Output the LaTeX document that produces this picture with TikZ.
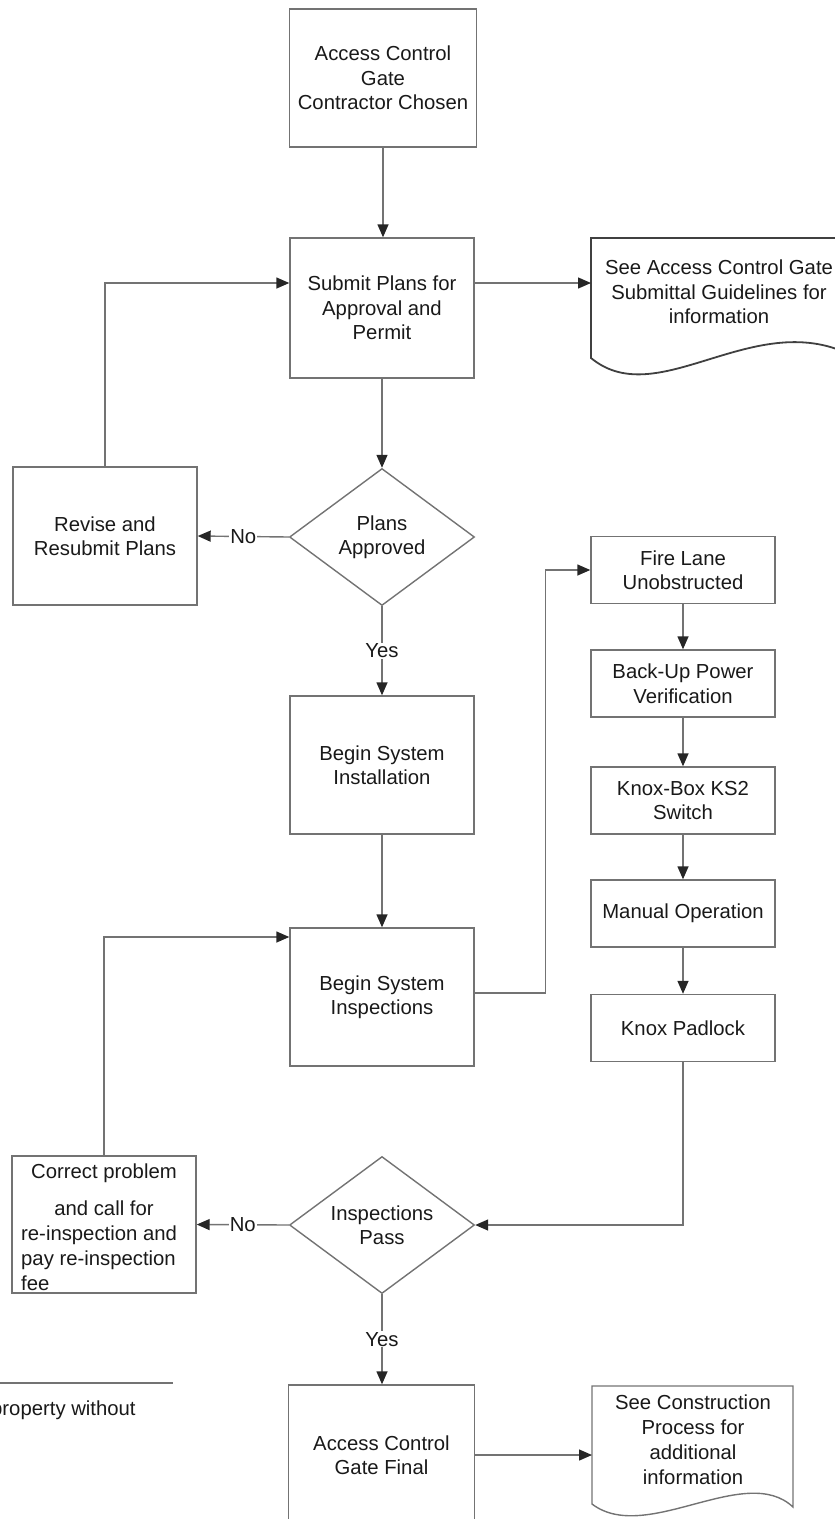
\documentclass[tikz,border=0pt]{standalone}
\usepackage{fontspec}
\setmainfont{Liberation Sans}
\usetikzlibrary{arrows.meta,shapes.geometric}
\begin{document}
\begin{tikzpicture}[x=1pt,y=-1pt,
  every node/.style={font=\fontsize{20.3}{24.5}\selectfont, text=black!90},
  box/.style={draw=black!55, line width=1.4pt, minimum width=184pt, minimum height=138pt, align=center, inner sep=0pt},
  smallbox/.style={box, minimum height=67pt},
  decision/.style={diamond, draw=black!55, line width=1.4pt, minimum width=185pt, minimum height=137pt, aspect=1.35, align=center, inner sep=0pt},
  conn/.style={draw=black!55, line width=1.4pt},
  arr/.style={conn, -{Triangle[length=13pt,width=11pt,color=black!85]}},
  lbl/.style={fill=white, inner sep=1pt},
  plain/.style={inner sep=0pt}
]
\useasboundingbox (0,0) rectangle (835,1519);
\clip (0,0) rectangle (835,1519);

% main column
\node[box, minimum width=187pt] (top) at (383,78) {Access Control\\Gate\\Contractor Chosen};
\node[box, minimum height=140pt] (submit) at (382,308) {Submit Plans for\\Approval and\\Permit};
\node[decision] (d1) at (382,537) {Plans\\Approved};
\node[box] (revise) at (105,536) {Revise and\\Resubmit Plans};
\node[box] (install) at (382,765) {Begin System\\Installation};
\node[box] (inspect) at (382,997) {Begin System\\Inspections};
\node[decision] (d2) at (382,1225) {Inspections\\Pass};
\node[box, minimum height=137pt] (correct) at (104,1224.5) {};
\node[plain] (c1) at (104,1173) {Correct problem};
\node[plain] (c2) at (104,1208) {and call for};
\node[plain, anchor=west] (c3) at (21,1235) {re-inspection and};
\node[plain, anchor=west] (c4) at (21,1260) {pay re-inspection};
\node[plain, anchor=west] (c5) at (21,1283) {fee};
\node[box, minimum width=186pt, minimum height=140pt] (final) at (381.5,1455) {Access Control\\Gate Final};

% right column
\node[smallbox] (fire) at (683,570) {Fire Lane\\Unobstructed};
\node[smallbox] (backup) at (683,683.5) {Back-Up Power\\Verification};
\node[smallbox] (knoxbox) at (683,800.5) {Knox-Box KS2\\Switch};
\node[smallbox] (manual) at (683,913.5) {Manual Operation};
\node[smallbox] (padlock) at (683,1028) {Knox Padlock};

% documents
\draw[draw=black!75, line width=1.8pt] (591,358) -- (591,238) -- (860,238) -- (860,360)
  .. controls (760,300) and (660,415) .. (591,358) -- cycle;
\node (doc1) at (719,292) [align=center] {See Access Control Gate\\Submittal Guidelines for\\information};
\coordinate (doc1w) at (591,283);

\draw[draw=black!55, line width=1.4pt] (592,1504) -- (592,1386) -- (793,1386) -- (793,1507)
  .. controls (745,1462) and (646,1545) .. (592,1504) -- cycle;
\node (doc2) at (693,1439.5) [align=center, font=\fontsize{20.3}{25}\selectfont] {See Construction\\Process for\\additional\\information};
\coordinate (doc2w) at (592,1455);

% connectors
\draw[arr] (top.south) -- (top.south |- submit.north);
\draw[arr] (revise.north) |- ([yshift=25pt]submit.west);
\draw[arr] ([yshift=25pt]submit.east) -- (doc1w);
\draw[arr] (submit) -- (d1);
\draw[arr] (d1.west) -- node[lbl] {No} (revise.east);
\draw[arr] (d1.south) -- node[lbl] {Yes} (d1.south |- install.north);
\draw[arr] (install) -- (inspect);
\draw[arr] ([yshift=4pt]inspect.east) -- ++(71,0) |- (fire.west);
\draw[arr] (fire) -- (backup);
\draw[arr] (backup) -- (knoxbox);
\draw[arr] (knoxbox) -- (manual);
\draw[arr] (manual) -- (padlock);
\draw[arr] (padlock.south) |- (d2.east);
\draw[arr] (d2.west) -- node[lbl] {No} (correct.east);
\draw[arr] (correct.north) |- ([yshift=60pt]inspect.west);
\draw[arr] (d2.south) -- node[lbl] {Yes} (d2.south |- final.north);
\draw[arr] (final.east) -- (doc2w);

% bottom-left fragment
\draw[conn] (0,1383) -- (173,1383);
\node[plain, anchor=west] (frag) at (-9,1410) {property without};
\end{tikzpicture}
\end{document}
